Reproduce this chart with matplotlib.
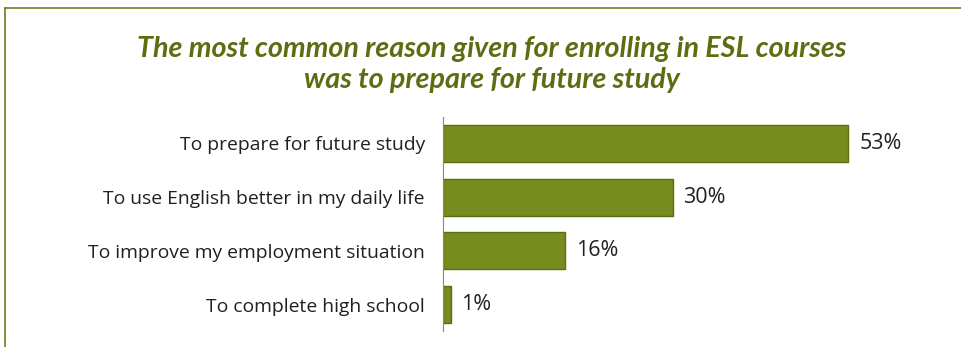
import matplotlib.pyplot as plt
from matplotlib.lines import Line2D

reasons = [
    "To prepare for future study",
    "To use English better in my daily life",
    "To improve my employment situation",
    "To complete high school",
]
shares = [53, 30, 16, 1]
title_lines = [
    "The most common reason given for enrolling in ESL courses",
    "was to prepare for future study",
]

olive = "#768c1e"
olive_dark = "#5b6e12"
text_col = "#231f20"

fig = plt.figure(figsize=(9.61, 3.47), dpi=100)
ax = fig.add_axes([443 / 961, 1 - 331 / 347, 470 / 961, 214 / 347])

ypos = range(len(reasons))
ax.barh(ypos, shares, height=0.69, color=olive, edgecolor=olive_dark, linewidth=1)
for y, v in zip(ypos, shares):
    ax.text(v + 1.4, y, f"{v}%", va="center", ha="left", fontsize=15.5,
            family="Open Sans", color=text_col)

ax.set_xlim(0, 470 / 7.65)
ax.set_ylim(3.49, -0.49)
ax.set_yticks(list(ypos))
ax.set_yticklabels(reasons, fontsize=13.9, family="Open Sans", color=text_col)
ax.tick_params(axis="y", length=0, pad=13)
ax.set_xticks([])
for side in ["top", "right", "bottom"]:
    ax.spines[side].set_visible(False)
ax.spines["left"].set_color("#8a8a6a")
ax.spines["left"].set_linewidth(0.8)

for line, base in zip(title_lines, [57, 88]):
    fig.text(492 / 961, 1 - base / 347, line, ha="center", va="baseline",
             fontsize=20.7, fontweight="bold", style="italic",
             family="Lato", color=olive_dark)

# olive frame along the top and left edges
fig.add_artist(Line2D([5 / 961, 1], [1 - 8 / 347, 1 - 8 / 347], color="#6b7f1d", lw=1.2))
fig.add_artist(Line2D([5 / 961, 5 / 961], [1 - 8 / 347, 0], color="#6b7f1d", lw=1.2))

fig.savefig("out.png", dpi=100)
